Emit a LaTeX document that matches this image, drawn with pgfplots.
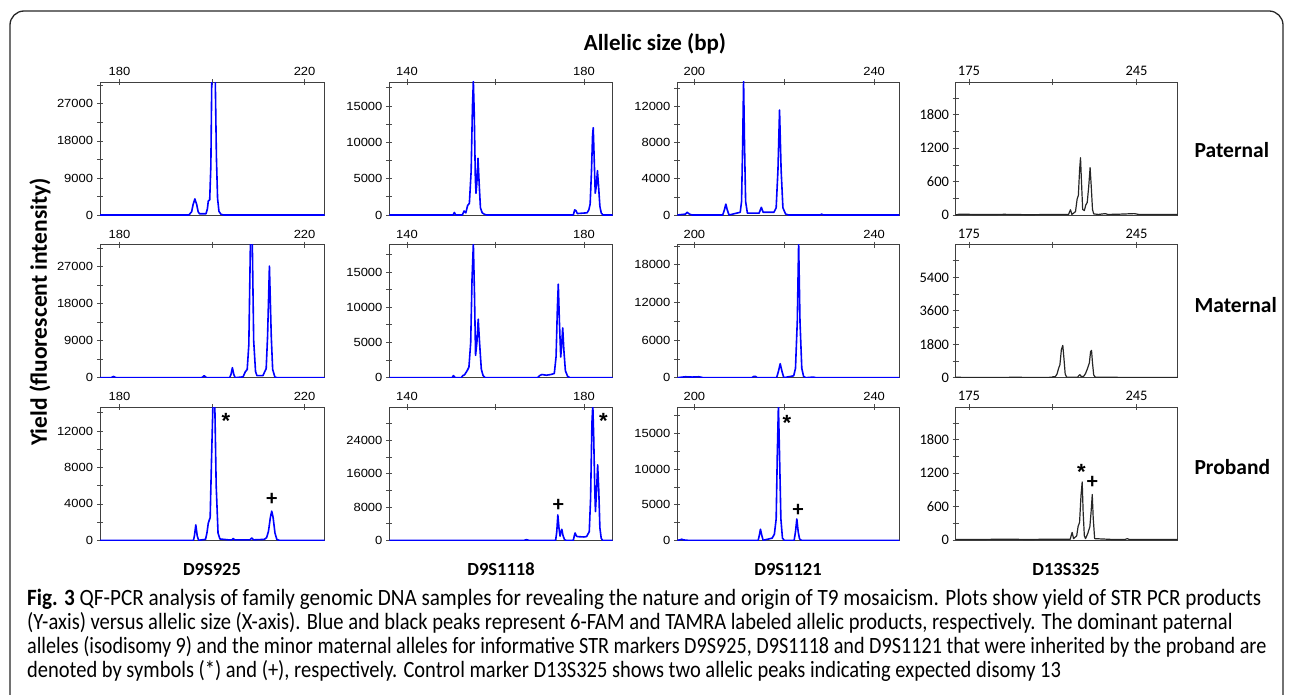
\documentclass[border=0pt]{standalone}
\usepackage{fontspec}
\setmainfont{Carlito}
\newfontfamily\arial{Liberation Sans}
\usepackage{pgfplots}
\pgfplotsset{compat=1.18}
\definecolor{trblue}{RGB}{0,0,255}
\tikzset{ann/.style={font=\bfseries\fontsize{22}{22}\selectfont},
 star/.style={font=\arial\bfseries\fontsize{22}{22}\selectfont}}
\pgfplotsset{
 panel/.style={scale only axis, anchor=south west, ymin=0, height=133pt,
   axis line style={line width=0.9pt, black!75},
   xtick pos=top, xticklabel pos=top, ytick pos=left,
   tick align=center, major tick length=6pt, minor tick length=6pt,
   every tick/.style={black!70, line width=0.7pt},
   every minor tick/.style={black!70, line width=0.7pt},
   scaled ticks=false, clip=true},
 arialticks/.style={tick label style={font=\arial\fontsize{11.8}{13}\selectfont, xscale=1.1}},
 calticks/.style={tick label style={font=\fontsize{14.5}{16}\selectfont}},
 bluetr/.style={trblue, line width=1.6pt, line join=round},
 blacktr/.style={black!85, line width=1.2pt, line join=round},
 cA/.style={panel, arialticks, width=224.5pt, xmin=175.8, xmax=224.3, xtick={180,200,220}, xticklabels={180,,220}},
 cB/.style={panel, arialticks, width=223.4pt, xmin=136, xmax=186.5, xtick={140,160,180}, xticklabels={140,,180}},
 cC/.style={panel, arialticks, width=222pt, xmin=196.2, xmax=245.6, xtick={200,220,240}, xticklabels={200,,240}},
 cD/.style={panel, calticks, width=222pt, xmin=169.4, xmax=262.1, xtick={175,210,245}, xticklabels={175,,245}},
}
\begin{document}
\begin{tikzpicture}
\useasboundingbox (0,0) rectangle (1293pt,-695pt);
\draw[rounded corners=14pt, line width=1.3pt, black!85] (10pt,-720pt) rectangle (1283pt,-11pt);

\node[font=\bfseries\fontsize{23}{23}\selectfont] at (655pt,-44pt) {Allelic size (bp)};
\node[rotate=90, font=\bfseries\fontsize{23.5}{24}\selectfont] at (40pt,-312pt) {Yield (fluorescent intensity)};
\node[anchor=west, font=\bfseries\fontsize{21.5}{22}\selectfont] at (1191pt,-150pt) {Paternal};
\node[anchor=west, font=\bfseries\fontsize{21.5}{22}\selectfont] at (1191pt,-305pt) {Maternal};
\node[anchor=west, font=\bfseries\fontsize{21.5}{22}\selectfont] at (1191pt,-467pt) {Proband};
\node[font=\bfseries\fontsize{18.5}{20}\selectfont] at (212pt,-569pt) {D9S925};
\node[font=\bfseries\fontsize{18.5}{20}\selectfont] at (501pt,-569pt) {D9S1118};
\node[font=\bfseries\fontsize{18.5}{20}\selectfont] at (788pt,-569pt) {D9S1121};
\node[font=\bfseries\fontsize{18.5}{20}\selectfont] at (1066pt,-569pt) {D13S325};

\begin{scope}[every node/.style={anchor=base west, font=\fontsize{20.3}{22}\selectfont, inner sep=0pt, yscale=1.15}]
\node[xscale=1.042] at (27pt,-605pt) {\textbf{Fig. 3} QF-PCR analysis of family genomic DNA samples for revealing the nature and origin of T9 mosaicism. Plots show yield of STR PCR products};
\node[xscale=1.011] at (27pt,-629.5pt) {(Y-axis) versus allelic size (X-axis). Blue and black peaks represent 6-FAM and TAMRA labeled allelic products, respectively. The dominant paternal};
\node[xscale=0.994] at (27pt,-653.5pt) {alleles (isodisomy 9) and the minor maternal alleles for informative STR markers D9S925, D9S1118 and D9S1121 that were inherited by the proband are};
\node[xscale=1.009] at (27pt,-677.5pt) {denoted by symbols (*) and (+), respectively. Control marker D13S325 shows two allelic peaks indicating expected disomy 13};
\end{scope}

% ---------------- Row 1: Paternal
\begin{axis}[cA, at={(100pt,-215pt)}, ymax=32300, ytick={0,9000,18000,27000}, yticklabels={0,9000,18000,27000}, minor ytick={4500,13500,22500,31500}]
\addplot[bluetr] coordinates {(175.8,0)(195.0,0)(195.6,800)(195.9,2500)(196.3,3900)(196.7,2500)(197.0,800)(197.3,300)(198.7,300)(199.0,1500)(199.2,3400)(199.5,3700)(199.75,12000)(199.95,33000)(200.7,33000)(200.95,14000)(201.2,4000)(201.5,900)(201.9,200)(202.5,0)(224.3,0)};
\end{axis}
\begin{axis}[cB, at={(389.3pt,-215pt)}, ymax=18300, ytick={0,5000,10000,15000}, yticklabels={0,5000,10000,15000}, minor ytick={2500,7500,12500,17500}]
\addplot[bluetr] coordinates {(136,0)(150.4,0)(150.7,350)(151.0,0)(152.5,0)(152.9,550)(153.3,300)(153.7,1300)(154.1,1600)(154.5,6000)(154.8,15000)(155.0,18400)(155.2,14000)(155.45,5000)(155.6,3000)(155.8,4500)(156.05,7800)(156.3,4500)(156.6,1000)(157.0,300)(157.5,100)(158,0)(177.6,0)(177.9,700)(178.2,600)(178.5,200)(180.7,300)(181.1,700)(181.4,1500)(181.7,6000)(181.95,11000)(182.1,12000)(182.3,8000)(182.55,3000)(182.8,4000)(183.05,6100)(183.3,4000)(183.6,1200)(183.9,300)(184.3,0)(186.5,0)};
\end{axis}
\begin{axis}[cC, at={(677.3pt,-215pt)}, ymax=14700, ytick={0,4000,8000,12000}, yticklabels={0,4000,8000,12000}, minor ytick={2000,6000,10000,14000}]
\addplot[bluetr] coordinates {(196.2,0)(198.0,100)(198.4,300)(198.9,100)(199.5,0)(206.3,0)(206.7,600)(207.0,1200)(207.3,600)(207.7,0)(210.2,300)(210.5,1500)(210.75,8000)(210.95,14800)(211.15,8000)(211.4,1500)(211.8,200)(214.4,200)(214.9,850)(215.3,300)(217.7,300)(218.2,800)(218.6,5000)(218.95,11600)(219.3,5000)(219.7,800)(220.3,100)(221,0)(228.0,0)(228.3,100)(228.7,0)(245.6,0)};
\end{axis}
\begin{axis}[cD, at={(955.5pt,-215pt)}, ymax=2390, ytick={0,600,1200,1800}, yticklabels={0,600,1200,1800}, minor ytick={300,900,1500,2100}]
\addplot[blacktr] coordinates {(169.4,0)(171,15)(180,8)(190,12)(200,5)(210,10)(216.6,10)(217.4,95)(218.0,10)(219.5,60)(220.2,290)(220.7,350)(221.2,800)(221.6,1030)(222.0,600)(222.5,100)(223.2,80)(223.8,180)(224.4,225)(225.0,500)(225.6,850)(226.1,500)(226.6,100)(227.1,20)(229,10)(232,25)(233,10)(238,15)(244,25)(246,10)(255,10)(262.1,8)};
\end{axis}

% ---------------- Row 2: Maternal
\begin{axis}[cA, at={(100pt,-377.7pt)}, ymax=32300, ytick={0,9000,18000,27000}, yticklabels={0,9000,18000,27000}, minor ytick={4500,13500,22500,31500}]
\addplot[bluetr] coordinates {(175.8,0)(178.2,0)(178.7,300)(179.3,0)(197.8,0)(198.3,500)(198.8,0)(203.8,0)(204.1,800)(204.4,2430)(204.7,800)(205.0,0)(206.7,200)(207.2,1450)(207.6,2000)(207.95,8000)(208.3,33000)(208.7,33000)(209.0,9000)(209.4,1500)(209.7,500)(211.0,500)(211.4,1500)(211.7,2200)(212.0,10000)(212.4,27100)(212.8,10000)(213.1,2000)(213.6,100)(214.2,0)(224.3,0)};
\end{axis}
\begin{axis}[cB, at={(389.3pt,-377.7pt)}, ymax=18870, ytick={0,5000,10000,15000}, yticklabels={0,5000,10000,15000}, minor ytick={2500,7500,12500,17500}]
\addplot[bluetr] coordinates {(136,0)(150.2,0)(150.5,300)(150.9,0)(152.3,0)(152.6,300)(153.0,400)(153.6,1000)(154.0,1500)(154.4,5000)(154.7,14000)(155.0,19000)(155.25,12000)(155.5,3170)(155.8,5000)(156.1,8290)(156.4,5000)(156.8,1200)(157.2,300)(157.7,0)(169.5,0)(170.0,300)(170.5,450)(171.5,350)(172.5,450)(173.3,600)(173.7,3000)(174.0,10000)(174.2,13260)(174.45,8000)(174.75,2940)(175.0,5000)(175.2,7060)(175.45,4000)(175.8,1000)(176.3,200)(176.8,0)(186.5,0)};
\end{axis}
\begin{axis}[cC, at={(677.3pt,-377.7pt)}, ymax=21200, ytick={0,6000,12000,18000}, yticklabels={0,6000,12000,18000}, minor ytick={3000,9000,15000,21000}]
\addplot[bluetr] coordinates {(196.2,0)(198.0,150)(199.5,100)(201,150)(202,0)(212.8,0)(213.2,200)(213.6,200)(214.0,0)(218.3,0)(218.7,1000)(219.1,2230)(219.5,1000)(219.9,0)(222.1,300)(222.5,1500)(222.9,9000)(223.2,21500)(223.5,9000)(223.9,1500)(224.3,200)(224.8,0)(226.5,100)(227,0)(245.6,0)};
\end{axis}
\begin{axis}[cD, at={(955.5pt,-377.7pt)}, ymax=7160, ytick={0,1800,3600,5400}, yticklabels={0,1800,3600,5400}, minor ytick={900,2700,4500,6300}]
\addplot[blacktr] coordinates {(169.4,20)(180,15)(195,20)(205,15)(209.5,20)(210.3,60)(211.0,40)(211.8,200)(212.4,485)(213.0,700)(213.6,1500)(214.2,1740)(214.7,1000)(215.2,200)(215.8,30)(220.4,30)(221.0,130)(221.4,160)(221.9,60)(222.8,60)(223.6,200)(224.5,485)(225.3,800)(225.8,1400)(226.2,1470)(226.6,800)(227.1,150)(227.8,20)(235,20)(245,15)(262.1,15)};
\end{axis}

% ---------------- Row 3: Proband
\begin{axis}[cA, at={(100pt,-540.3pt)}, ymax=14600, ytick={0,4000,8000,12000}, yticklabels={0,4000,8000,12000}, minor ytick={2000,6000,10000,14000}]
\addplot[bluetr] coordinates {(175.8,0)(196.0,0)(196.2,500)(196.5,1690)(196.8,500)(197.1,0)(198.6,100)(198.9,800)(199.2,1900)(199.6,2500)(199.9,9000)(200.2,15000)(200.6,15000)(200.9,6000)(201.3,800)(201.7,150)(202.6,100)(203.5,50)(204.3,50)(204.6,200)(204.9,50)(208.2,50)(208.6,250)(209.0,50)(211.3,100)(211.8,300)(212.2,1000)(212.6,2500)(212.9,3200)(213.2,2500)(213.6,800)(214.0,100)(214.5,0)(224.3,0)};
\node[star] at (axis cs:203.0,13100) {*};
\node[ann] at (axis cs:212.9,4520) {+};
\end{axis}
\begin{axis}[cB, at={(389.3pt,-540.3pt)}, ymax=31900, ytick={0,8000,16000,24000}, yticklabels={0,8000,16000,24000}, minor ytick={4000,12000,20000,28000}]
\addplot[bluetr] coordinates {(136,0)(166.5,0)(167.0,150)(167.5,0)(173.6,0)(173.85,2000)(174.1,6080)(174.35,3000)(174.6,1000)(174.8,2000)(175.0,2640)(175.25,1200)(175.6,200)(175.9,0)(177.6,0)(177.8,1000)(178.0,1760)(178.3,1000)(178.6,880)(180.0,800)(180.6,900)(181.2,2080)(181.5,10000)(181.8,28000)(182.0,32500)(182.2,25000)(182.45,12000)(182.6,6900)(182.85,12000)(183.1,18100)(183.35,12000)(183.6,3000)(183.9,500)(184.2,0)(186.5,0)};
\node[ann] at (axis cs:174.2,8480) {+};
\node[star] at (axis cs:184.4,28700) {*};
\end{axis}
\begin{axis}[cC, at={(677.3pt,-540.3pt)}, ymax=18700, ytick={0,5000,10000,15000}, yticklabels={0,5000,10000,15000}, minor ytick={2500,7500,12500,17500}]
\addplot[bluetr] coordinates {(196.2,0)(197.0,100)(197.2,150)(197.6,50)(198.5,0)(214.2,0)(214.45,700)(214.7,1550)(215.0,700)(215.3,0)(217.3,300)(217.8,850)(218.2,3000)(218.45,12000)(218.7,19000)(218.95,12000)(219.25,3000)(219.6,300)(220.0,0)(222.2,0)(222.5,1200)(222.8,3000)(223.1,1200)(223.4,200)(223.8,0)(245.6,0)};
\node[star] at (axis cs:220.6,16500) {*};
\node[ann] at (axis cs:223.1,4180) {+};
\end{axis}
\begin{axis}[cD, at={(955.5pt,-540.3pt)}, ymax=2380, ytick={0,600,1200,1800}, yticklabels={0,600,1200,1800}, minor ytick={300,900,1500,2100}]
\addplot[blacktr] coordinates {(169.4,15)(180,15)(190,20)(200,15)(210,20)(217.3,20)(218.1,142)(218.7,30)(220.0,80)(220.6,250)(221.2,320)(221.8,800)(222.3,1045)(222.7,500)(223.2,80)(223.7,30)(224.6,120)(225.5,243)(226.0,500)(226.5,819)(226.9,400)(227.5,30)(235,15)(240.2,15)(241.1,30)(242,15)(262.1,15)};
\node[star] at (axis cs:222.0,1220) {*};
\node[ann] at (axis cs:226.5,1033) {+};
\end{axis}
\end{tikzpicture}
\end{document}
